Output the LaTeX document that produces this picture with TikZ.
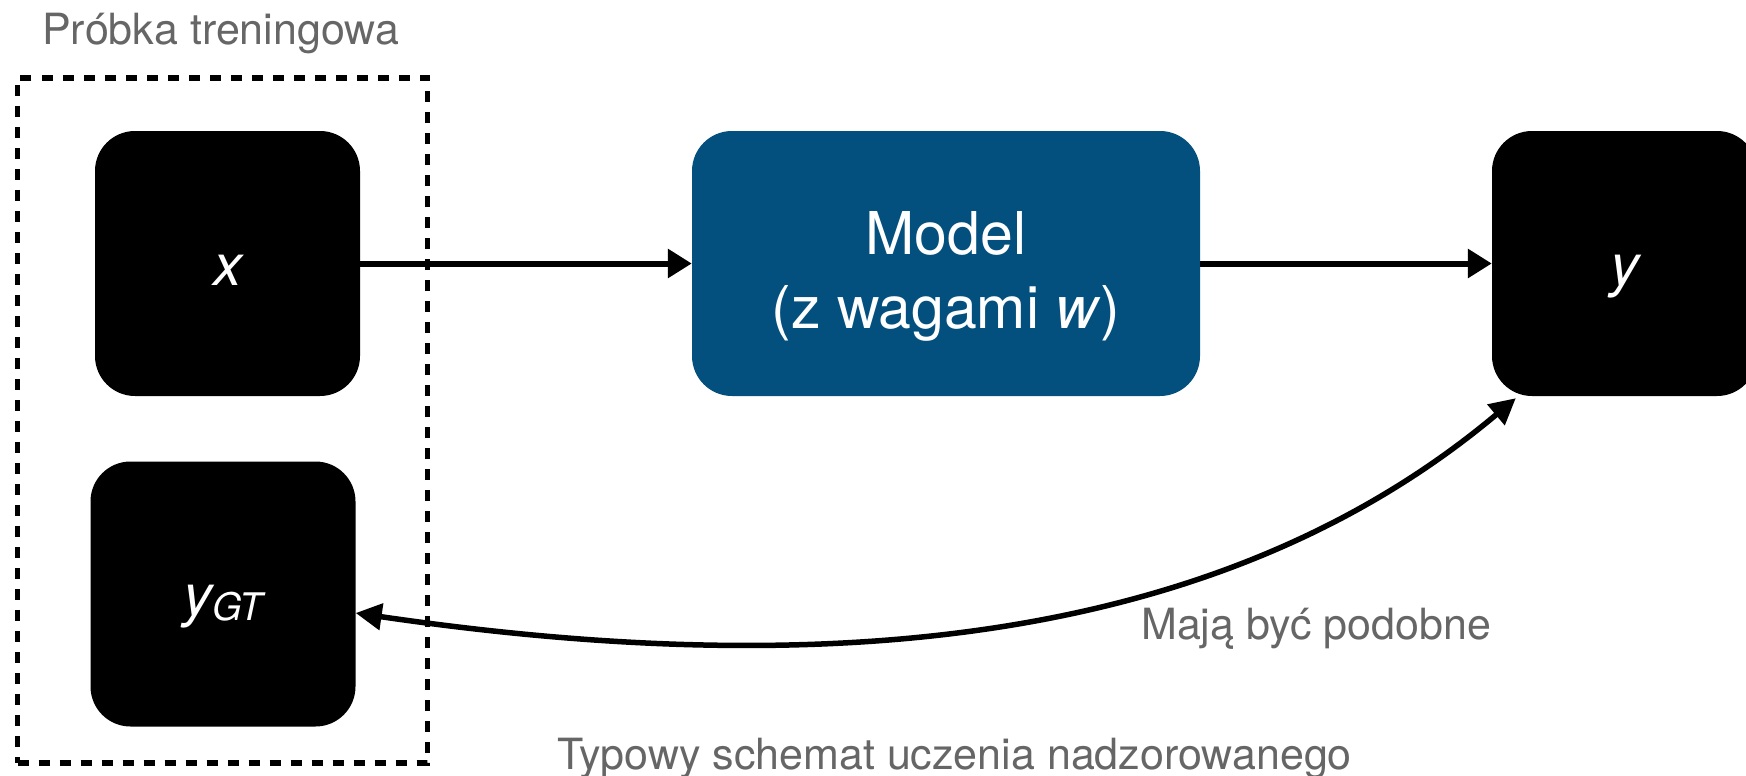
\documentclass[tikz,border=0pt]{standalone}
\usepackage{fontspec}
\setmainfont{TeX Gyre Heros}
\usetikzlibrary{arrows.meta}
\definecolor{modelblue}{RGB}{3,80,126}
\definecolor{labelgray}{RGB}{102,102,102}
\begin{document}
\begin{tikzpicture}[x=1pt,y=-1pt,
  blackbox/.style={fill=black, rounded corners=40pt, minimum width=265pt, minimum height=265pt,
    inner sep=0pt, text=white, font=\fontsize{58}{58}\selectfont\itshape, text height=43pt, text depth=0pt},
  modelbox/.style={fill=modelblue, rounded corners=40pt, minimum width=508pt, minimum height=265pt, inner sep=0pt},
  modeltext/.style={anchor=base, inner sep=0pt, text=white, font=\fontsize{59}{59}\selectfont},
  graytext/.style={anchor=base west, inner sep=0pt, text=labelgray, font=\fontsize{43}{43}\selectfont},
  samplebox/.style={draw=black, line width=5.5pt, dash pattern=on 11pt off 10pt, minimum width=410pt, minimum height=685pt, inner sep=0pt},
  conn/.style={line width=6pt, -{Triangle[length=24pt,width=28pt]}},
  biconn/.style={line width=5.5pt, {Triangle[length=26pt,width=26pt]}-{Triangle[length=26pt,width=26pt]}}
]
\useasboundingbox (0,0) rectangle (1746,776);
\fill[white] (0,0) rectangle (1746,776);

\node[samplebox] (sample) at (222.5,420.5) {};
\node[graytext] (title) at (42,45) {Próbka treningowa};

\node[blackbox] (xin) at (227.5,263.5) {x};
\node[blackbox] (ygt) at (223,594) {y\raisebox{-5pt}{\fontsize{38}{38}\selectfont GT}};
\node[modelbox] (model) at (946,263.5) {};
\node[modeltext] (m1) at (946,254) {Model};
\node[modeltext] (m2) at (946,328) {(z wagami \textit{w})};
\node[blackbox] (yout) at (1624.5,263.5) {y};

\draw[conn] (xin.east) -- (model.west);
\draw[conn] (model.east) -- (yout.west);
\draw[biconn] ([yshift=-19pt]ygt.east) .. controls (801,678) and (1210,655) .. ([xshift=24pt,yshift=-2pt]yout.south west);

\node[graytext] (simlbl) at (1141,639) {Mają być podobne};
\node[graytext] (caption) at (557,769) {Typowy schemat uczenia nadzorowanego};
\end{tikzpicture}
\end{document}
